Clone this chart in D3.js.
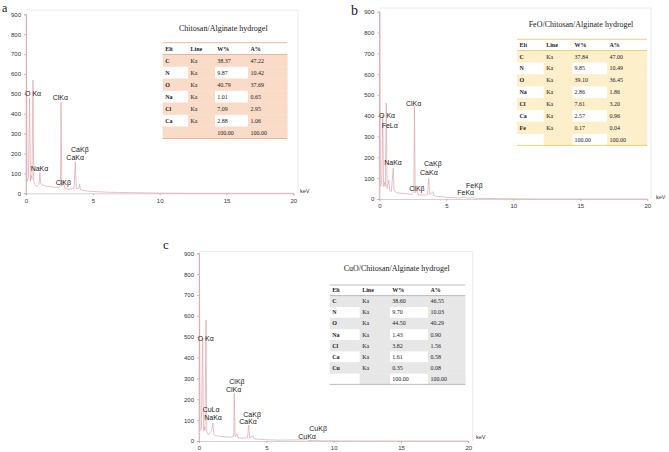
<!DOCTYPE html>
<html><head><meta charset="utf-8">
<script src="https://cdn.jsdelivr.net/npm/d3@7/dist/d3.min.js"></script>
<style>html,body{margin:0;padding:0;background:#fff;}svg{display:block;}</style>
</head><body>
<svg id="chart" width="669" height="452"></svg>
<script>
// ---------- data ----------
const xTicks = [0, 5, 10, 15, 20];
const yTicks = [0, 100, 200, 300, 400, 500, 600, 700, 800, 900];

// spectra: [keV, counts]
const spectrumA = [[0,0],[0.03,905],[0.08,60],[0.18,80],[0.27,480],[0.33,60],[0.39,90],[0.45,70],[0.52,569],[0.58,60],[0.7,40],[0.85,35],[0.98,45],[1.04,104],[1.1,50],[1.3,40],[1.6,35],[1.9,32],[2.2,30],[2.45,28],[2.58,40],[2.62,460],[2.68,35],[2.82,60],[2.9,25],[3.1,22],[3.3,20],[3.6,25],[3.69,159],[3.76,25],[3.95,25],[4.01,45],[4.08,18],[4.5,12],[5,9],[6,6],[7,4],[8,3],[10,1],[13,0],[20,0]];
const spectrumB = [[0,0],[0.03,905],[0.08,60],[0.18,70],[0.26,403],[0.32,60],[0.39,80],[0.45,60],[0.52,461],[0.58,50],[0.705,90],[0.78,40],[0.9,35],[1.04,149],[1.1,40],[1.3,30],[1.6,28],[2.0,25],[2.4,22],[2.58,35],[2.62,445],[2.68,30],[2.82,45],[2.9,20],[3.2,18],[3.6,20],[3.69,100],[3.76,22],[4.01,35],[4.1,15],[5,8],[6,5],[6.4,10],[6.5,4],[7.06,6],[7.2,3],[9,2],[12,0],[20,0]];
const spectrumC = [[0,0],[0.03,905],[0.08,50],[0.18,60],[0.27,494],[0.33,50],[0.39,70],[0.45,50],[0.52,580],[0.58,45],[0.7,30],[0.93,50],[1.04,86],[1.1,30],[1.3,25],[1.6,22],[2,20],[2.4,18],[2.58,25],[2.62,228],[2.68,20],[2.82,35],[2.9,15],[3.3,14],[3.6,15],[3.69,77],[3.76,15],[4.01,25],[4.1,10],[5,6],[6,4],[8.04,6],[8.1,2],[8.9,3],[9,1],[12,0],[20,0]];

// peak labels: [text, keV, counts]
const peaksA = [["O K\u03b1",-0.07,501],["ClK\u03b1",2.0,483],["CaK\u03b2",3.37,221],["CaK\u03b1",3.02,179],["NaK\u03b1",0.35,122],["ClK\u03b2",2.22,52]];
const peaksB = [["O K\u03b1",-0.02,400],["FeL\u03b1",0.18,351],["ClK\u03b1",1.99,460],["NaK\u03b1",0.37,174],["CaK\u03b2",3.34,168],["CaK\u03b1",3.04,126],["ClK\u03b2",2.24,51],["FeK\u03b2",6.47,67],["FeK\u03b1",5.82,30]];
const peaksC = [["O K\u03b1",-0.1,492],["ClK\u03b2",2.25,284],["ClK\u03b1",2.0,246],["CuL\u03b1",0.27,153],["NaK\u03b1",0.39,112],["CaK\u03b2",3.29,129],["CaK\u03b1",2.99,93],["CuK\u03b2",8.19,58],["CuK\u03b1",7.37,22]];

// table data
const tableHeader = ["Elt", "Line", "W%", "A%"];
const eltA = ["C","N","O","Na","Cl","Ca"];
const wA = ["38.37","9.87","40.79","1.01","7.09","2.88"];
const aA = ["47.22","10.42","37.69","0.65","2.95","1.06"];
const eltB = ["C","N","O","Na","Cl","Ca","Fe"];
const wB = ["37.84","9.85","39.10","2.86","7.61","2.57","0.17"];
const aB = ["47.00","10.49","36.45","1.86","3.20","0.96","0.04"];
const eltC = ["C","N","O","Na","Cl","Ca","Cu"];
const wC = ["38.60","9.70","44.50","1.43","3.82","1.61","0.35"];
const aC = ["46.55","10.03","40.29","0.90","1.56","0.58","0.08"];
const totals = ["100.00","100.00"];

const titles = ["Chitosan/Alginate hydrogel","FeO/Chitosan/Alginate hydrogel","CuO/Chitosan/Alginate hydrogel"];
const panelLetters = ["a","b","c"];

// ---------- layout ----------
const panels = [
  {letter:panelLetters[0], lx:2, ly:12, lsize:12, x0:26, x1:293.3, y0:193.3, y1:14.3, ftop:10, fright:298,
   spec:spectrumA, peaks:peaksA, kev:[300,193],
   title:titles[0], tx:223.3, ty:31,
   elt:eltA, w:wA, a:aA, tb:{cols:[162.7,188,214.7,248,287.3], top:42.7, hh:11.8, rh:12},
   fill:"#fadbc7", rule:"#e8b190"},
  {letter:panelLetters[1], lx:351, ly:15, lsize:14, x0:379.3, x1:647.3, y0:199, y1:11.7, ftop:8, fright:651,
   spec:spectrumB, peaks:peaksB, kev:[656,199],
   title:titles[1], tx:581, ty:27,
   elt:eltB, w:wB, a:aB, tb:{cols:[517,543.7,572,607,647], top:39.3, hh:11.2, rh:11.86},
   fill:"#fdefca", rule:"#eccb6e"},
  {letter:panelLetters[2], lx:163, ly:249, lsize:13, x0:199, x1:468.3, y0:441, y1:253.3, ftop:251.7, fright:472.7,
   spec:spectrumC, peaks:peaksC, kev:[476,439],
   title:titles[2], tx:396.7, ty:271,
   elt:eltC, w:wC, a:aC, tb:{cols:[329.7,359.7,389.7,428,465.3], top:285, hh:10.6, rh:11.1},
   fill:"#e7e7e7", rule:"#b5b5b5"}
];

const svg = d3.select("#chart");
const sans = "'Liberation Sans', Arial, sans-serif";
const serif = "'Liberation Serif', 'Times New Roman', serif";

panels.forEach(p => {
  const g = svg.append("g");
  const x = d3.scaleLinear().domain([0, 20]).range([p.x0, p.x1]);
  const y = d3.scaleLinear().domain([0, 900]).range([p.y0, p.y1]);

  // frame
  g.append("path")
    .attr("d", `M${p.x0},${p.ftop}H${p.fright}V${p.y0}`)
    .attr("fill","none").attr("stroke","#e4e4e4").attr("stroke-width",0.8);

  // axes
  const ya = g.append("g").attr("transform",`translate(${p.x0},0)`)
    .call(d3.axisLeft(y).tickValues(yTicks).tickSize(2).tickPadding(3));
  const xa = g.append("g").attr("transform",`translate(0,${p.y0})`)
    .call(d3.axisBottom(x).tickValues(xTicks).tickSize(2).tickPadding(3));
  [ya, xa].forEach(a => {
    a.select(".domain").attr("stroke","#c8c8c8").attr("stroke-width",0.8);
    a.selectAll(".tick line").attr("stroke","#999").attr("stroke-width",0.6);
    a.selectAll(".tick text").attr("font-family",sans).attr("font-size",6).attr("fill","#333");
  });

  // spectrum
  g.append("path").datum(p.spec)
    .attr("d", d3.line().x(d=>x(d[0])).y(d=>y(Math.min(d[1],900))))
    .attr("fill","none").attr("stroke","#e3a3ab").attr("stroke-width",0.7);

  // peak labels
  g.selectAll("text.peak").data(p.peaks).enter().append("text")
    .attr("class","peak")
    .attr("x", d=>x(d[1])).attr("y", d=>y(d[2])).attr("dy","0.35em")
    .attr("font-family",sans).attr("font-size",7).attr("fill","#222")
    .text(d=>d[0]);

  // keV
  g.append("text").attr("x",p.kev[0]).attr("y",p.kev[1])
    .attr("font-family",sans).attr("font-size",5.5).attr("fill","#333").text("keV");

  // panel letter
  g.append("text").attr("x",p.lx).attr("y",p.ly)
    .attr("font-family",serif).attr("font-size",p.lsize).attr("fill","#222").text(p.letter);

  // title
  g.append("text").attr("x",p.tx).attr("y",p.ty).attr("text-anchor","middle")
    .attr("font-family",serif).attr("font-size",8).attr("fill","#222").text(p.title);

  // table
  const tb = p.tb;
  const rows = p.elt.map((e,i)=>[e,"Ka",p.w[i],p.a[i]]);
  rows.push(["","",totals[0],totals[1]]);
  const L = tb.cols[0], R = tb.cols[4];
  const bodyTop = tb.top + tb.hh;
  rows.forEach((r,i)=>{
    const ry = bodyTop + i*tb.rh;
    const full = (i % 2 === 0);
    for (let c=0;c<4;c++){
      const colored = full || (c % 2 === 1);
      if (colored) g.append("rect").attr("x",tb.cols[c]).attr("y",ry)
        .attr("width",tb.cols[c+1]-tb.cols[c]+0.3).attr("height",tb.rh+0.3).attr("fill",p.fill);
    }
  });
  const bottom = bodyTop + rows.length*tb.rh;
  [tb.top, bodyTop, bottom].forEach(yy=>{
    g.append("line").attr("x1",L).attr("x2",R).attr("y1",yy).attr("y2",yy)
      .attr("stroke",p.rule).attr("stroke-width",0.9);
  });
  tableHeader.forEach((h,c)=>{
    g.append("text").attr("x",tb.cols[c]+2.5).attr("y",tb.top+tb.hh/2).attr("dy","0.35em")
      .attr("font-family",serif).attr("font-size",6).attr("font-weight","bold").attr("fill","#222").text(h);
  });
  rows.forEach((r,i)=>{
    r.forEach((v,c)=>{
      g.append("text").attr("x",tb.cols[c]+2.5).attr("y",bodyTop+i*tb.rh+tb.rh/2).attr("dy","0.35em")
        .attr("font-family",serif).attr("font-size",6).attr("font-weight",c===0?"bold":"normal")
        .attr("fill","#222").text(v);
    });
  });
});
</script>
</body></html>
